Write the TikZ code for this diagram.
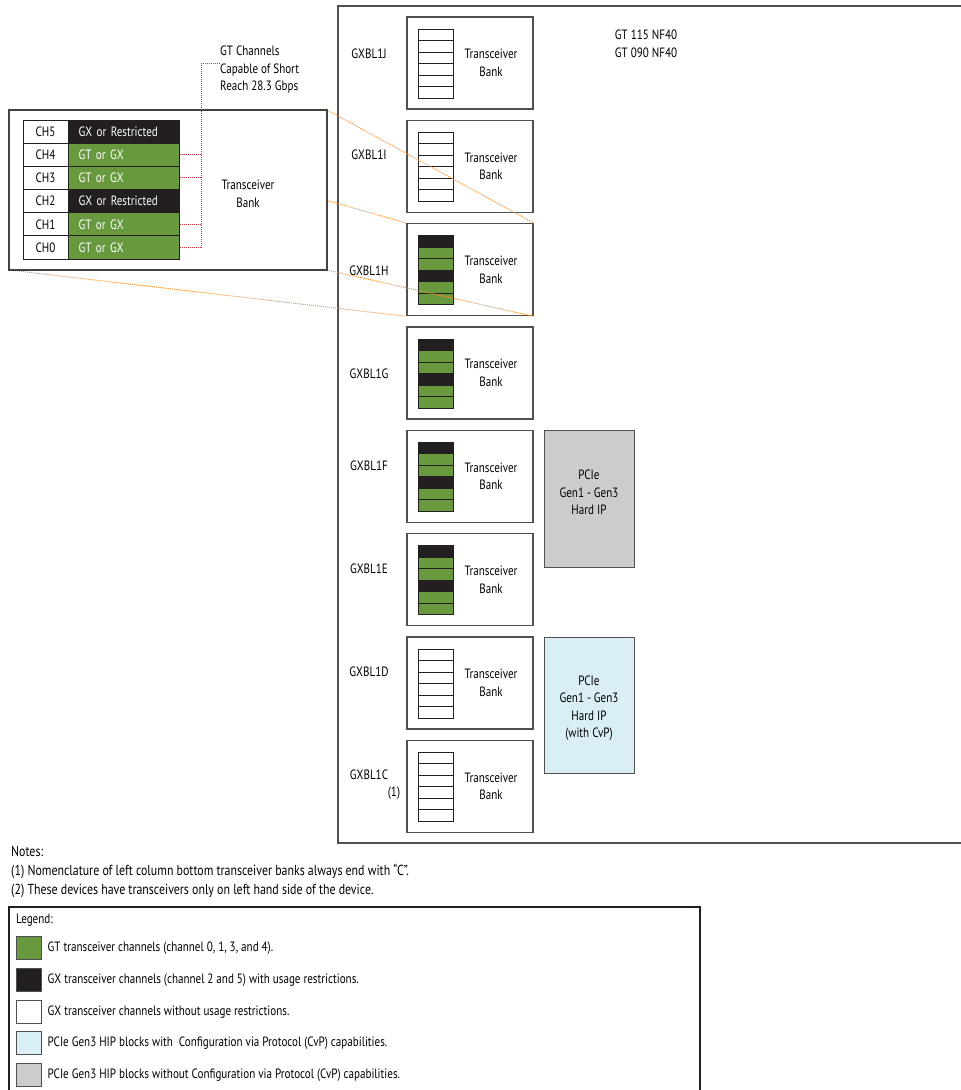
\documentclass[tikz,border=0pt]{standalone}
\usepackage{fontspec}
\setmainfont{PT Sans}[FakeStretch=0.82]
\usetikzlibrary{positioning}
\usetikzlibrary{calc}
\definecolor{gtgreen}{RGB}{104,153,62}
\definecolor{gxblack}{RGB}{35,31,32}
\definecolor{edgegray}{RGB}{80,80,80}
\definecolor{hipgray}{RGB}{204,204,204}
\definecolor{hipblue}{RGB}{217,238,245}
\definecolor{zoomorange}{RGB}{245,150,60}
\definecolor{dotred}{RGB}{225,45,55}

\tikzset{
  txt/.style={font=\fontsize{13.5}{17.5}\selectfont, inner sep=0pt, align=center},
  bank/.style={draw=edgegray, line width=1.3pt, fill=white, minimum width=126pt, minimum height=92pt, inner sep=0pt},
  hip/.style={draw=edgegray, line width=1pt, minimum width=90pt, inner sep=0pt},
  chcell/.style={draw=gxblack, line width=1pt, minimum width=45pt, minimum height=23.2pt, inner sep=0pt, font=\fontsize{13.5}{16}\selectfont},
  gtcell/.style={draw=gxblack, line width=1pt, text=white, text width=91pt, inner xsep=10pt, inner ysep=0pt, minimum height=23.2pt, align=left, font=\fontsize{13.5}{16}\selectfont},
  swatch/.style={draw=edgegray, line width=1pt, minimum width=25pt, minimum height=23pt, inner sep=0pt},
  orangedot/.style={zoomorange, densely dotted, line width=1pt},
  reddot/.style={dotred, densely dotted, line width=1pt}
}

\begin{document}
\begin{tikzpicture}[x=1pt, y=-1pt]
\useasboundingbox (0,0) rectangle (961,1090);

%---------------------------------------
% Device outline (right side open)
%---------------------------------------
\draw[edgegray, line width=1.3pt] (961,6) -- (338,6) -- (338,843) -- (961,843);

\node[txt] (devname) at (646,44) {GT 115 NF40\\GT 090 NF40};

%---------------------------------------
% Transceiver banks, top to bottom
%---------------------------------------
\foreach \nm/\lbl/\ly/\kind [count=\i from 0] in
  {J/GXBL1J/54/w, I/GXBL1I/155/w, H/GXBL1H/271/c, G/GXBL1G/374/c,
   F/GXBL1F/466/c, E/GXBL1E/569/c, D/GXBL1D/672/w, C/GXBL1C/775/w} {
  \pgfmathsetmacro{\ytop}{17+103.33*\i}
  \node[bank] (bank\nm) at (470,\ytop+46) {};
  \node[txt] (btxt\nm) at (491,\ytop+46) {Transceiver\\Bank};
  \node[txt] (blbl\nm) at (369,\ly) {\lbl};
  % channel stack
  \foreach \r in {0,...,5} {
    \pgfmathsetmacro{\ya}{\ytop+12+11.5*\r}
    \if c\kind
      \pgfmathparse{(\r==0||\r==3)?"gxblack":"gtgreen"}
    \else
      \def\pgfmathresult{white}
    \fi
    \edef\cf{\pgfmathresult}
    \draw[fill=\cf, draw=gxblack, line width=0.9pt] (418,\ya) rectangle (453,\ya+11.5);
  }
}
\node[txt] (note1) at (394,793) {(1)};

%---------------------------------------
% PCIe hard IP blocks
%---------------------------------------
\node[hip, fill=hipgray, minimum height=137pt] (hipF) at (589,498.5) {};
\node[txt] at ([yshift=6pt]hipF.center) {PCIe\\Gen1 - Gen3\\Hard IP};
\node[hip, fill=hipblue, minimum height=136pt] (hipD) at (589,705) {};
\node[txt] at ([yshift=-3pt]hipD.center) {PCIe\\Gen1 - Gen3\\Hard IP\\(with CvP)};

%---------------------------------------
% Zoomed bank (detail of GXBL1H)
%---------------------------------------
\coordinate (zNW) at (9,110);
\coordinate (zNE) at (327,110);
\coordinate (zSW) at (9,270);
\coordinate (zSE) at (327,270);
\draw[orangedot] (zNW) -- (bankH.north west);
\draw[orangedot] (zNE) -- (bankH.north east);
\draw[orangedot] (zSW) -- (bankH.south west);
\draw[orangedot] (zSE) -- (bankH.south east);
\node[draw=gxblack!85, line width=1.2pt, fill=white, minimum width=318pt, minimum height=160pt, inner sep=0pt] (zoombox) at (168,190) {};
\node[txt] (ztxt) at (248,194) {Transceiver\\Bank};

\foreach \n/\t/\c [count=\i from 0] in
  {5/GX or Restricted/gxblack, 4/GT or GX/gtgreen, 3/GT or GX/gtgreen,
   2/GX or Restricted/gxblack, 1/GT or GX/gtgreen, 0/GT or GX/gtgreen} {
  \pgfmathsetmacro{\yc}{131.6+23.17*\i}
  \node[chcell, fill=white] (ch\n) at (45.5,\yc) {CH\n};
  \node[gtcell, fill=\c, anchor=west] (gt\n) at (68,\yc) {\t};
}

% GT note with dotted leaders
\node[txt, align=left, anchor=west] (gtnote) at (220,70) {GT Channels\\Capable of Short\\Reach 28.3 Gbps};
\coordinate (junc) at (201,63);
\draw[reddot] (junc) -- (junc -| gtnote.west);
\draw[reddot] (junc) -- (junc |- gt0.east);
\foreach \n in {4,3,1,0}
  \draw[reddot] (gt\n.east) -- (gt\n.east -| junc);

%---------------------------------------
% Notes
%---------------------------------------
\node[txt, align=left, anchor=west, font=\fontsize{14.5}{19}\selectfont] (notes) at (11,872) {Notes:\\
(1) Nomenclature of left column bottom transceiver banks always end with “C”.\\
(2) These devices have transceivers only on left hand side of the device.};

%---------------------------------------
% Legend (bottom runs off the page)
%---------------------------------------
\draw[gxblack, line width=1.2pt] (9,1090) -- (9,907) -- (700,907) -- (700,1090);
\node[txt, anchor=west] (leghead) at (16,920) {Legend:};
\foreach \c/\t/\yy in
  {gtgreen/{GT transceiver channels (channel 0, 1, 3, and 4).}/948,
   gxblack/{GX transceiver channels (channel 2 and 5) with usage restrictions.}/980,
   white/{GX transceiver channels without usage restrictions.}/1012,
   hipblue/{PCIe Gen3 HIP blocks with\ \ Configuration via Protocol (CvP) capabilities.}/1043,
   hipgray/{PCIe Gen3 HIP blocks without Configuration via Protocol (CvP) capabilities.}/1075} {
  \node[swatch, fill=\c] (sw\yy) at (28.5,\yy) {};
  \node[txt, anchor=west, right=6pt of sw\yy] {\t};
}

\end{tikzpicture}
\end{document}
